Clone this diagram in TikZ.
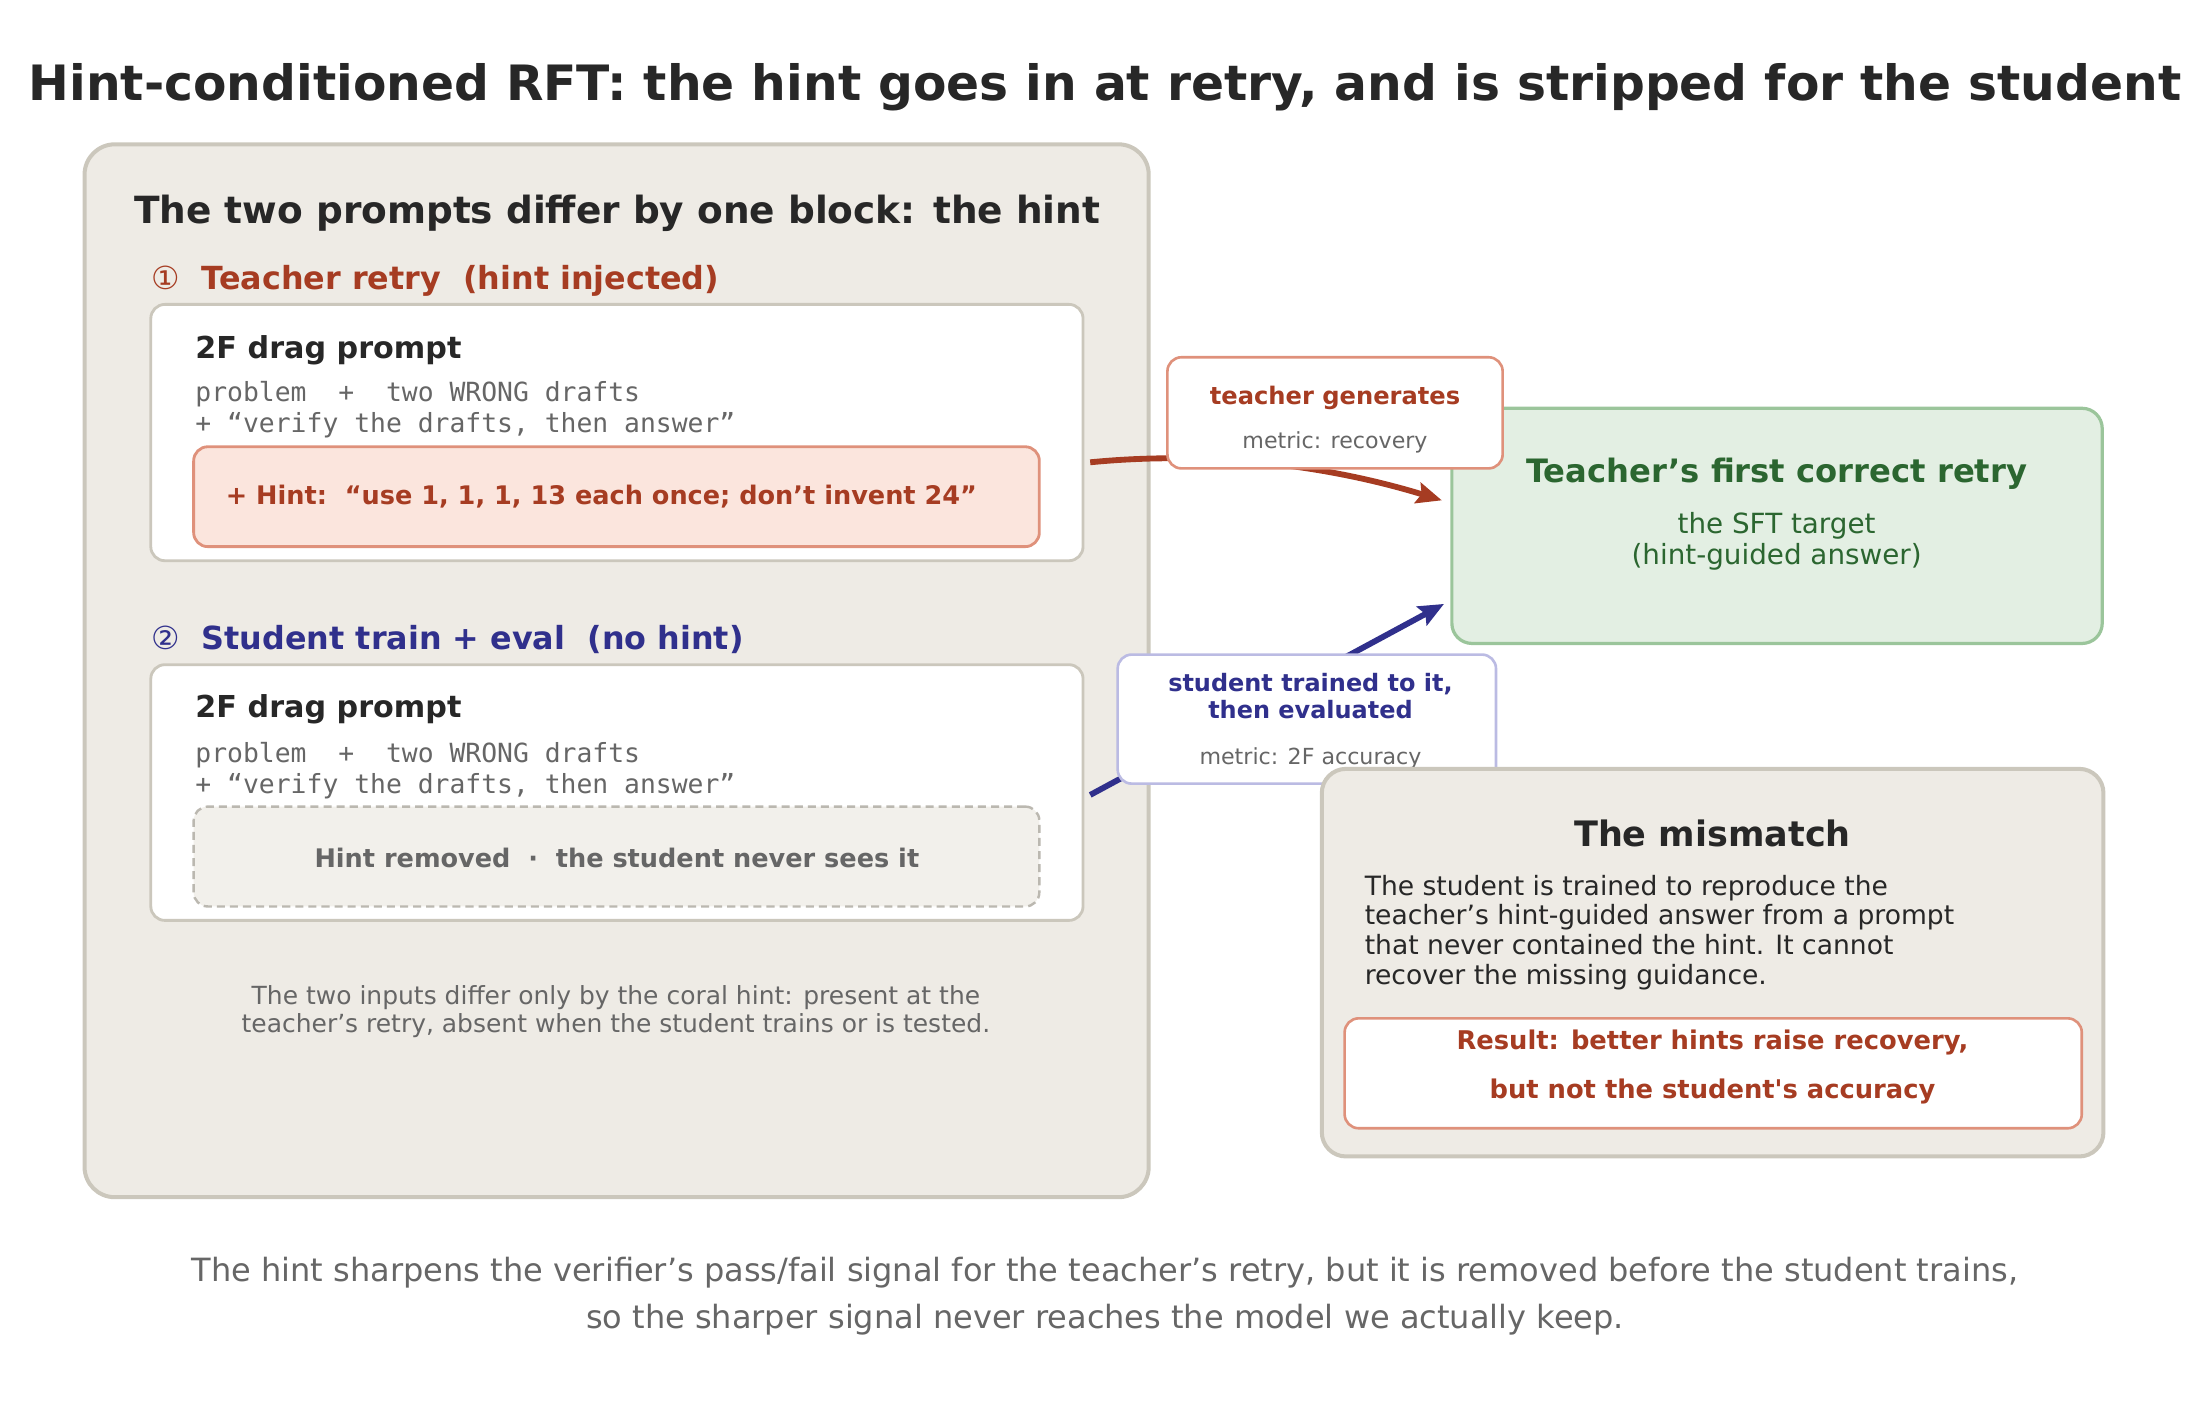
\documentclass[tikz,border=0pt]{standalone}
\usepackage{fontspec}
\setmainfont{DejaVu Sans}
\setmonofont{DejaVu Sans Mono}
\newfontfamily\djplain{DejaVu Sans}
\usetikzlibrary{arrows.meta}
\definecolor{ink}{HTML}{272727}
\definecolor{panelbg}{HTML}{EEEBE5}
\definecolor{panelline}{HTML}{CBC7BC}
\definecolor{coral}{HTML}{A63C22}
\definecolor{hintfill}{HTML}{FBE5DD}
\definecolor{hintline}{HTML}{DF917B}
\definecolor{navy}{HTML}{30308C}
\definecolor{navyline}{HTML}{BBBBE3}
\definecolor{greenfill}{HTML}{E3EFE3}
\definecolor{greenline}{HTML}{9BC59B}
\definecolor{greentext}{HTML}{2B6630}
\definecolor{muted}{HTML}{666666}
\definecolor{dashfill}{HTML}{F2F0EB}
\definecolor{dashline}{HTML}{BBB8B0}
\tikzset{
  fs/.style 2 args={font=\fontsize{#1}{#2}\selectfont},
  fsb/.style 2 args={font=\fontsize{#1}{#2}\selectfont\bfseries},
  fsm/.style 2 args={font=\fontsize{#1}{#2}\selectfont\ttfamily},
  panelbox/.style={draw=panelline, fill=panelbg, line width=2pt, rounded corners=15pt, inner sep=0pt},
  whitebox/.style={draw=panelline, fill=white, line width=1.4pt, rounded corners=7pt, inner sep=0pt},
  hintbox/.style={draw=hintline, fill=hintfill, line width=1.4pt, rounded corners=7pt, inner sep=0pt},
  gonebox/.style={draw=dashline, fill=dashfill, line width=1.2pt, dash pattern=on 4pt off 2.5pt, rounded corners=7pt, inner sep=0pt},
  labbox/.style={fill=white, line width=1.3pt, rounded corners=7pt, inner sep=0pt},
  greenbox/.style={draw=greenline, fill=greenfill, line width=1.6pt, rounded corners=10pt, inner sep=0pt},
  txt/.style={inner sep=0pt},
  flow/.style={line width=2.9pt, -{Stealth[length=12.5pt,width=10.5pt,inset=2pt]}},
}
\begin{document}
\begin{tikzpicture}[x=0.7pt, y=-0.7pt]
\useasboundingbox (0,0) rectangle (1568,1011.8);
% title
\node[txt, ink, fsb={24.2}{29}, anchor=base] (title) at (784,71.3) {Hint-conditioned RFT: the hint goes in at retry, and is stripped for the student};
% left panel
\node[panelbox, minimum width=528.5pt, minimum height=522.9pt] (panel) at (437.5,475.9) {};
\node[txt, ink, anchor=west, fsb={18.6}{22}] (ptitle) at (95,151.5) {The two prompts differ by one block: the hint};
\node[txt, coral, anchor=west, fsb={15.8}{19}] (h1) at (107,199.5) {{\mdseries ①}\ \ Teacher retry\ \ (hint injected)};
\node[whitebox, minimum width=463pt, minimum height=127.3pt] (w1) at (437.7,306.9) {};
\node[txt, ink, anchor=west, fsb={15}{18}] (d1) at (138.4,248.5) {2F drag prompt};
\node[txt, muted, anchor=west, align=left, fsm={13.1}{15.3}] (m1) at (138.4,290.8) {problem\ \ +\ \ two WRONG drafts\\+ “verify the drafts, then answer”};
\node[hintbox, minimum width=420pt, minimum height=49.6pt] (hint) at (437.4,352.4) {};
\node[txt, coral, anchor=west, fsb={12.7}{15}] (hinttext) at (160,352.5) {+ Hint:\ \ “use 1, 1, 1, 13 each once; don’t invent 24”};
\node[txt, navy, anchor=west, fsb={15.8}{19}] (h2) at (107,453.8) {{\mdseries ②}\ \ Student train + eval\ \ (no hint)};
\node[whitebox, minimum width=463pt, minimum height=127pt] (w2) at (437.7,562.3) {};
\node[txt, ink, anchor=west, fsb={15}{18}] (d2) at (138.4,503.5) {2F drag prompt};
\node[txt, muted, anchor=west, align=left, fsm={13.1}{15.3}] (m2) at (138.4,546.8) {problem\ \ +\ \ two WRONG drafts\\+ “verify the drafts, then answer”};
\node[gonebox, minimum width=420pt, minimum height=49.6pt] (gone) at (437.4,607.7) {};
\node[txt, muted, fsb={12.7}{15}] (gonetext) at (437.7,608.5) {Hint removed\ \ ·\ \ the student never sees it};
\node[txt, muted, align=center, fs={12.4}{14}] (foot) at (437,718) {The two inputs differ only by the coral hint: present at the\\teacher’s retry, absent when the student trains or is tested.};
% target
\node[greenbox, minimum width=323pt, minimum height=116.8pt] (target) at (1260.8,373.1) {};
\node[txt, greentext, fsb={16}{19}] (ttitle) at (1260.5,336) {Teacher’s first correct retry};
\node[txt, greentext, align=center, fs={13.8}{15.4}] (tsub) at (1260.5,384.3) {the SFT target\\(hint-guided answer)};
% arrows
\coordinate (s1) at (773.5,328);
\coordinate (t1) at (1023,355);
\coordinate (s2) at (773.5,564);
\coordinate (t2) at (1024.5,428.5);
\draw[flow, coral] (s1) .. controls (855,320) and (938,329) .. (t1);
\draw[flow, navy] (s2) -- (t2);
% edge labels
\node[labbox, draw=hintline, minimum width=166.5pt, minimum height=55.2pt] (tg) at (947.2,292.9) {};
\node[txt, coral, fsb={12}{14}] (tgt) at (947.2,282.5) {teacher generates};
\node[txt, muted, fs={11}{13}] (tgm) at (947.2,314) {metric: recovery};
\node[labbox, draw=navyline, minimum width=187.9pt, minimum height=64.1pt] (st) at (927.2,510.2) {};
\node[txt, navy, align=center, fsb={11.9}{13.6}] (stt) at (929.8,494) {student trained to it,\\then evaluated};
\node[txt, muted, fs={11}{13}] (stm) at (929.8,538) {metric: 2F accuracy};
% mismatch
\node[panelbox, minimum width=388.2pt, minimum height=192.5pt, rounded corners=12pt] (mis) at (1215.1,683) {};
\node[txt, ink, fsb={17.4}{20}] (mtitle) at (1215,591.3) {The mismatch};
\node[txt, ink, anchor=west, align=left, fs={13.2}{14.7}] (mbody) at (968,661.5) {The student is trained to reproduce the\\teacher’s hint-guided answer from a prompt\\that never contained the hint. It cannot\\recover the missing guidance.};
\node[labbox, draw=hintline, minimum width=366.1pt, minimum height=54.6pt] (res) at (1215.5,761.5) {};
\node[txt, coral, align=center, font=\fontsize{12.8}{24.5}\selectfont\djplain\bfseries] (restext) at (1215,757) {Result: better hints raise recovery,\\but not the student's accuracy};
% bottom
\node[txt, muted, align=center, fs={15.9}{23.1}] (bottom) at (784,919.5) {The hint sharpens the verifier’s pass/fail signal for the teacher’s retry, but it is removed before the student trains,\\so the sharper signal never reaches the model we actually keep.};
\end{tikzpicture}
\end{document}
